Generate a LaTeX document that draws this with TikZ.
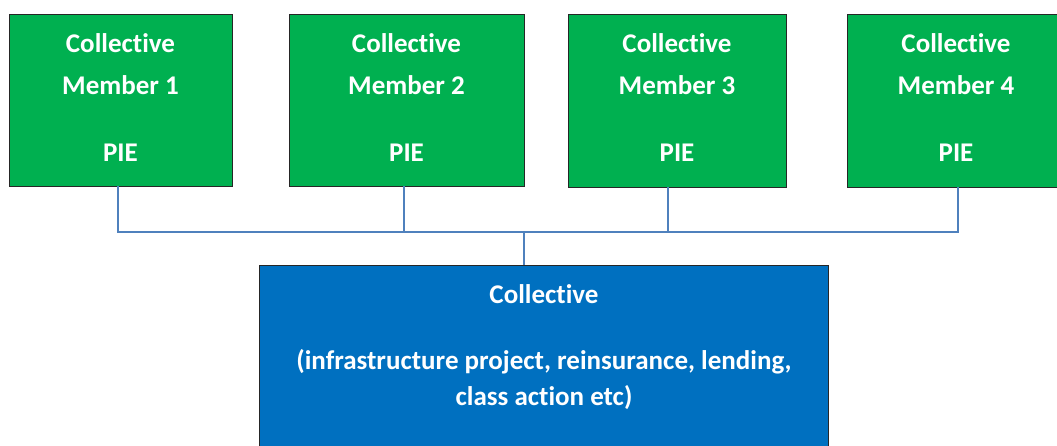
\documentclass[tikz,border=0pt]{standalone}
\usepackage{fontspec}
\setmainfont{Carlito}[Ligatures={NoCommon}]
\definecolor{gfill}{HTML}{00B050}
\definecolor{bfill}{HTML}{0070C0}
\definecolor{conn}{HTML}{4F81BD}
\definecolor{edge}{HTML}{262626}
\begin{document}
\begin{tikzpicture}[x=1pt,y=-1pt,
  gbox/.style={draw=edge,line width=1pt,fill=gfill,inner sep=0pt},
  bbox/.style={draw=edge,line width=1pt,fill=bfill,inner sep=0pt},
  txt/.style={text=white,font=\fontsize{27}{33}\selectfont\bfseries,anchor=base,inner sep=0pt},
  wire/.style={draw=conn,line width=1.5pt}]
\useasboundingbox (0,0) rectangle (1057,445);
% green boxes
\path[gbox] (9,14) rectangle (232,186);
\node[inner sep=0pt,minimum width=223pt,minimum height=172pt] (m1) at (120.5,100) {};
\path[gbox] (289,14) rectangle (524,186);
\node[inner sep=0pt,minimum width=235pt,minimum height=172pt] (m2) at (406.5,100) {};
\path[gbox] (568,14) rectangle (786,187);
\node[inner sep=0pt,minimum width=218pt,minimum height=173pt] (m3) at (677,100.5) {};
\path[gbox] (847,14) rectangle (1070,187);
\node[inner sep=0pt,minimum width=223pt,minimum height=173pt] (m4) at (958.5,100.5) {};
% blue box
\path[bbox] (259,265) rectangle (828,470);
\node[inner sep=0pt,minimum width=569pt,minimum height=205pt] (col) at (543.5,367.5) {};
% texts
\node[txt] (m1a) at (120.5,52) {Collective};
\node[txt] (m1b) at (120.5,94) {Member 1};
\node[txt] (m1c) at (120.5,161) {PIE};
\node[txt] (m2a) at (406.5,52) {Collective};
\node[txt] (m2b) at (406.5,94) {Member 2};
\node[txt] (m2c) at (406.5,161) {PIE};
\node[txt] (m3a) at (677,52) {Collective};
\node[txt] (m3b) at (677,94) {Member 3};
\node[txt] (m3c) at (677,161) {PIE};
\node[txt] (m4a) at (956,52) {Collective};
\node[txt] (m4b) at (956,94) {Member 4};
\node[txt] (m4c) at (956,161) {PIE};
\node[txt] (cola) at (544,303) {Collective};
\node[txt] (colb) at (544,369) {(infrastructure project, reinsurance, lending,};
\node[txt] (colc) at (544,405) {class action etc)};
% connectors
\coordinate (j1) at (118,232);
\coordinate (j4) at (958,232);
\coordinate (jc) at (524,232);
\draw[wire] (j1 |- m1.south) -- (j1) -- (j4) -- (j4 |- m4.south);
\draw[wire] (404,232 |- m2.south) -- (404,232);
\draw[wire] (668,232 |- m3.south) -- (668,232);
\draw[wire] (jc) -- (jc |- col.north);
\end{tikzpicture}
\end{document}
